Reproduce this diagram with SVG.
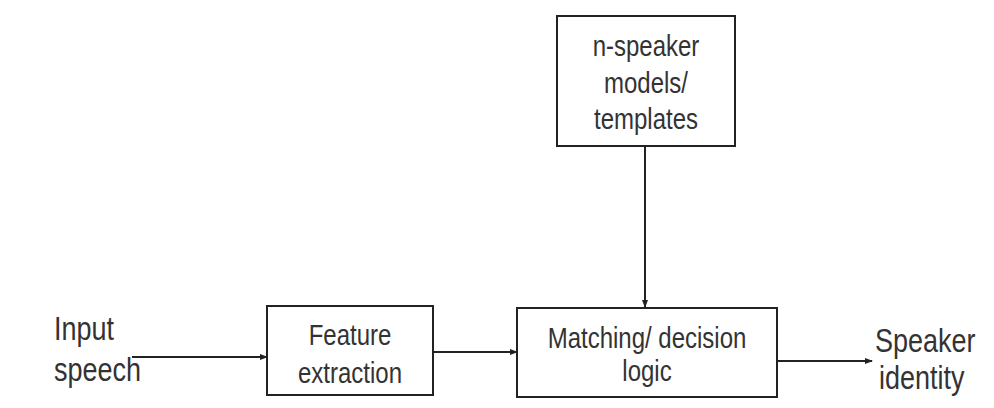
<svg xmlns="http://www.w3.org/2000/svg" width="994" height="408" viewBox="0 0 994 408">
<style>
.box{fill:#fff;stroke:#222;stroke-width:2}
.t{font-family:"Liberation Sans",Arial,sans-serif;font-size:24px;fill:#333;text-anchor:middle}
.lab{font-family:"Liberation Sans",Arial,sans-serif;font-size:27px;fill:#333}
.c{stroke:#222;stroke-width:2;fill:none;marker-end:url(#ah)}
</style>
<defs>
<marker id="ah" markerWidth="8" markerHeight="8" refX="7" refY="4" orient="auto" markerUnits="userSpaceOnUse">
<path d="M0,1 L8,4 L0,7 Z" fill="#222"/>
</marker>
</defs>
<rect width="994" height="408" fill="#fff"/>
<g id="connectors">
<path class="c" d="M132,357 H267"/>
<path class="c" d="M433,352 H517"/>
<path class="c" d="M645,146 V307"/>
<path class="c" d="M777,361 H872"/>
</g>
<g id="input">
<text class="lab" transform="matrix(1,0,0,1.25,54,340)">Input</text>
<text class="lab" transform="matrix(1,0,0,1.25,54,381)">speech</text>
</g>
<g id="feature">
<rect class="box" x="267" y="306" width="166" height="89"/>
<text class="t" transform="matrix(1,0,0,1.25,350,345)">Feature</text>
<text class="t" transform="matrix(1,0,0,1.25,350,383)">extraction</text>
</g>
<g id="models">
<rect class="box" x="557" y="16" width="178" height="130"/>
<text class="t" transform="matrix(1,0,0,1.25,646,56)">n-speaker</text>
<text class="t" transform="matrix(1,0,0,1.25,646,93)">models/</text>
<text class="t" transform="matrix(1,0,0,1.25,646,129)">templates</text>
</g>
<g id="matching">
<rect class="box" x="517" y="308" width="260" height="89"/>
<text class="t" transform="matrix(1,0,0,1.25,647,348)">Matching/ decision</text>
<text class="t" transform="matrix(1,0,0,1.25,647,381)">logic</text>
</g>
<g id="output">
<text class="lab" transform="matrix(1,0,0,1.25,875,352)">Speaker</text>
<text class="lab" transform="matrix(1,0,0,1.25,879,389)">identity</text>
</g>
</svg>
